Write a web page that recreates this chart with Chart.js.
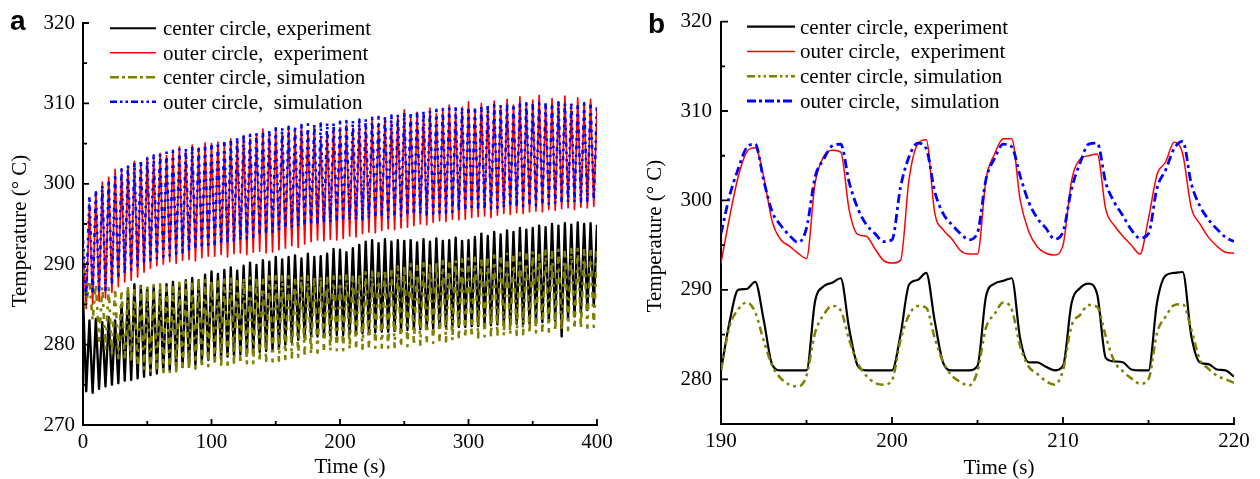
<!DOCTYPE html>
<html>
<head>
<meta charset="utf-8">
<script src="https://cdn.jsdelivr.net/npm/chart.js@4.4.1/dist/chart.umd.min.js"></script>
<style>
  html, body { margin: 0; padding: 0; background: #fff; }
  #wrap { position: relative; width: 1260px; height: 479px; }
  canvas { position: absolute; top: 0; }
  #chartA { left: 0; }
  #chartB { left: 630px; }
</style>
</head>
<body>
<div id="wrap">
  <canvas id="chartA" width="630" height="479"></canvas>
  <canvas id="chartB" width="630" height="479"></canvas>
</div>
<script>
// --- 圖例文字 (兩個面板共用) ---
const seriesLabels = ['center circle, experiment', 'outer circle,  experiment',
                      'center circle, simulation', 'outer circle,  simulation'];

// --- 面板 a：0–400 s，每個週期 5 s，讀取每個週期的谷值/峰值 ---
const aXTicks = [0, 100, 200, 300, 400];
const aXMinor = [50, 150, 250, 350];
const aYTicks = [270, 280, 290, 300, 310, 320];
const aYMinor = [275, 285, 295, 305, 315];
const aStep = 2.5;                     // 谷值 -> 峰值 的間隔 (s)
const aStart = [286, 292, 292, 293];   // t = 0 的值

const aCenterExpLow = [
  274.2, 274.0, 274.5, 274.8, 275.0, 275.2, 275.5, 275.6, 275.8, 276.0,
  276.2, 276.4, 276.6, 276.8, 277.0, 277.2, 277.3, 277.5, 277.8, 278.1,
  278.2, 278.3, 278.5, 278.6, 278.8, 278.9, 279.0, 279.1, 279.2, 279.3,
  279.6, 280.0, 280.3, 280.6, 280.8, 281.0, 281.0, 281.0, 281.1, 281.2,
  281.2, 281.3, 281.3, 281.4, 281.5, 281.5, 281.6, 281.6, 281.7, 281.8,
  281.8, 281.9, 281.9, 282.0, 282.0, 282.1, 282.1, 282.2, 282.2, 282.2,
  282.3, 282.3, 282.4, 282.4, 282.5, 282.5, 282.4, 282.6, 282.5, 282.6,
  282.7, 282.8, 282.9, 283.0, 281.0, 283.2, 283.5, 283.9, 284.3, 284.8];
const aCenterExpHigh = [
  283.0, 283.2, 282.8, 283.4, 283.0, 285.0, 286.8, 287.5, 287.3, 287.0,
  287.2, 286.9, 287.5, 287.8, 287.4, 288.0, 288.3, 288.0, 288.7, 289.1,
  288.8, 289.3, 289.6, 289.2, 289.8, 290.2, 289.9, 290.5, 290.3, 290.9,
  290.6, 290.9, 291.1, 290.7, 291.3, 290.9, 291.0, 291.3, 291.9, 291.8,
  291.5, 292.0, 292.4, 292.8, 293.0, 292.6, 293.1, 292.8, 293.0, 292.9,
  293.0, 292.7, 293.1, 292.8, 293.2, 292.9, 293.0, 293.3, 292.9, 293.0,
  293.4, 293.8, 293.5, 294.0, 293.7, 294.2, 294.0, 294.5, 294.3, 294.5,
  294.8, 294.6, 295.0, 294.8, 295.1, 294.9, 295.2, 295.0, 295.1, 294.9];
const aOuterExpLow = [
  284.5, 285.0, 285.4, 285.8, 286.5, 287.2, 287.8, 288.0, 288.4, 289.0,
  289.5, 289.8, 290.0, 290.3, 290.1, 290.5, 290.6, 290.4, 290.8, 291.0,
  291.0, 291.2, 290.9, 291.3, 291.4, 291.2, 291.5, 291.6, 291.4, 291.5,
  291.8, 292.0, 292.3, 292.1, 292.5, 292.8, 293.0, 292.9, 293.1, 293.0,
  293.2, 293.5, 293.4, 293.8, 294.0, 293.9, 294.2, 294.4, 294.3, 294.5,
  294.6, 294.8, 295.0, 294.9, 295.2, 295.4, 295.3, 295.6, 295.5, 295.6,
  295.8, 295.9, 296.0, 295.8, 296.1, 296.3, 296.2, 296.4, 296.3, 296.5,
  296.6, 296.5, 296.8, 296.7, 296.9, 297.0, 296.8, 297.1, 297.0, 297.2];
const aOuterExpHigh = [
  297.5, 299.0, 300.2, 300.8, 301.8, 301.5, 302.2, 302.8, 302.4, 303.3,
  303.0, 303.8, 303.5, 304.1, 304.6, 304.0, 304.8, 304.4, 305.1, 305.0,
  305.2, 304.8, 305.6, 305.3, 306.0, 305.6, 306.2, 306.8, 306.1, 306.7,
  306.4, 306.9, 306.5, 307.0, 306.6, 307.2, 305.9, 306.3, 307.0, 307.0,
  307.3, 306.9, 307.6, 307.2, 307.9, 307.5, 308.2, 307.8, 308.4, 309.2,
  308.2, 308.9, 308.5, 309.4, 308.7, 309.1, 309.8, 308.9, 309.5, 310.2,
  309.3, 310.0, 309.5, 310.3, 309.7, 310.5, 309.8, 310.8, 309.9, 310.4,
  311.0, 309.8, 310.6, 310.2, 310.9, 309.6, 310.7, 310.1, 310.5, 309.3];
const aCenterSimLow = [
  285.0, 283.0, 280.5, 279.5, 278.8, 278.3, 278.0, 277.8, 277.5, 277.0,
  276.7, 276.6, 276.6, 276.6, 276.7, 276.8, 276.9, 277.0, 277.1, 277.3,
  277.4, 277.5, 277.5, 277.6, 277.6, 277.7, 277.7, 277.8, 277.8, 277.9,
  278.0, 278.2, 278.4, 278.5, 278.7, 278.8, 279.0, 279.1, 279.2, 279.3,
  279.3, 279.4, 279.4, 279.5, 279.5, 279.6, 279.6, 279.6, 279.7, 279.7,
  279.8, 279.9, 280.0, 280.1, 280.2, 280.3, 280.4, 280.5, 280.7, 280.8,
  280.9, 280.9, 281.0, 281.0, 281.1, 281.1, 281.2, 281.2, 281.3, 281.4,
  281.5, 281.5, 281.6, 281.7, 281.8, 281.8, 281.9, 282.0, 282.1, 282.2];
const aCenterSimHigh = [
  288.0, 287.5, 287.2, 287.0, 287.0, 286.8, 287.0, 287.0, 287.2, 287.3,
  287.4, 287.5, 287.6, 287.6, 287.7, 287.8, 287.8, 287.9, 288.0, 288.0,
  288.1, 288.1, 288.2, 288.2, 288.3, 288.3, 288.4, 288.4, 288.5, 288.5,
  288.5, 288.5, 288.5, 288.5, 288.5, 288.5, 288.5, 288.5, 288.5, 288.5,
  288.6, 288.7, 288.8, 289.0, 289.1, 289.3, 289.4, 289.6, 289.7, 289.9,
  290.0, 290.1, 290.1, 290.2, 290.3, 290.4, 290.5, 290.5, 290.6, 290.7,
  290.8, 290.9, 291.0, 291.1, 291.2, 291.3, 291.3, 291.4, 291.5, 291.6,
  291.6, 291.7, 291.7, 291.8, 291.8, 291.9, 291.9, 292.0, 292.0, 292.0];
const aOuterSimLow = [
  286.0, 286.3, 286.5, 286.8, 287.5, 288.2, 288.8, 289.3, 289.8, 290.3,
  290.5, 290.7, 290.9, 291.1, 291.3, 291.5, 291.6, 291.8, 291.9, 292.0,
  292.2, 292.4, 292.6, 292.8, 293.0, 293.2, 293.4, 293.6, 293.8, 294.0,
  294.2, 294.4, 294.5, 294.7, 294.8, 294.9, 295.0, 295.1, 295.2, 295.3,
  295.4, 295.5, 295.5, 295.6, 295.7, 295.7, 295.8, 295.8, 295.9, 296.0,
  296.0, 296.1, 296.2, 296.2, 296.3, 296.4, 296.4, 296.5, 296.6, 296.7,
  296.7, 296.8, 296.8, 296.9, 297.0, 297.0, 297.1, 297.1, 297.2, 297.3,
  297.3, 297.4, 297.5, 297.5, 297.6, 297.7, 297.7, 297.8, 297.9, 298.0];
const aOuterSimHigh = [
  298.5, 299.2, 299.8, 300.5, 301.2, 301.8, 302.3, 302.6, 303.0, 303.3,
  303.5, 303.7, 303.9, 304.1, 304.3, 304.4, 304.6, 304.7, 304.9, 305.0,
  305.2, 305.4, 305.6, 305.8, 306.0, 306.1, 306.3, 306.5, 306.7, 306.9,
  307.0, 307.1, 307.2, 307.3, 307.4, 307.4, 307.5, 307.6, 307.6, 307.7,
  307.8, 307.9, 308.0, 308.1, 308.2, 308.3, 308.4, 308.5, 308.6, 308.8,
  308.9, 309.0, 309.1, 309.1, 309.2, 309.3, 309.4, 309.4, 309.5, 309.6,
  309.6, 309.7, 309.7, 309.8, 309.8, 309.9, 309.9, 309.9, 310.0, 310.0,
  310.0, 310.1, 310.0, 310.1, 310.0, 310.1, 310.0, 310.0, 310.1, 310.0];

// --- 面板 b：190–220 s，每 0.5 s 讀一個值 ---
const bXTicks = [190, 200, 210, 220];
const bXMinor = [195, 205, 215];
const bYTicks = [280, 290, 300, 310, 320];
const bYMinor = [275, 285, 295, 305, 315];
const bStart = 190;
const bStep = 0.5;

const bCenterExp = [
  281.0, 286.4, 290.0, 290.1, 290.9, 286.6, 281.6, 281.0, 281.0, 281.0, 281.0,
  288.7, 290.4, 290.8, 291.3, 285.6, 281.5, 281.0, 281.0, 281.0, 281.0,
  285.0, 290.6, 291.1, 291.9, 286.5, 281.8, 281.0, 281.0, 281.0, 281.5,
  289.3, 290.7, 291.0, 291.3, 284.5, 281.9, 281.9, 281.4, 281.0, 281.5,
  288.5, 290.2, 290.7, 289.5, 282.4, 282.0, 281.9, 281.1, 281.0, 281.0,
  288.6, 291.6, 291.9, 292.0, 284.9, 281.9, 281.7, 281.1, 281.0, 280.3];
const bOuterExp = [
  293.0, 298.1, 302.6, 305.4, 305.9, 302.6, 297.6, 295.6, 294.9, 294.1, 293.5,
  301.9, 304.9, 305.6, 305.4, 298.9, 296.2, 296.0, 294.6, 293.3, 293.0,
  293.3, 302.4, 306.3, 306.8, 298.6, 296.7, 295.7, 294.4, 294.0, 294.0,
  302.4, 305.2, 306.9, 306.9, 300.0, 296.5, 294.8, 294.1, 293.9, 295.0,
  302.2, 304.6, 305.0, 305.2, 299.0, 297.2, 296.0, 295.0, 294.0, 298.0,
  302.9, 304.3, 306.5, 305.2, 299.2, 297.4, 295.9, 294.9, 294.2, 294.1];
const bCenterSim = [
  281.0, 285.9, 287.8, 288.6, 287.5, 284.3, 281.5, 280.1, 279.4, 279.2, 280.4,
  285.2, 287.2, 288.2, 287.7, 284.4, 281.8, 280.4, 279.6, 279.4, 279.9,
  284.4, 287.2, 288.2, 288.0, 284.6, 281.9, 280.4, 279.7, 279.3, 280.9,
  285.8, 287.3, 288.6, 287.8, 283.7, 281.4, 280.6, 279.8, 279.4, 281.0,
  286.0, 287.2, 288.3, 288.1, 284.8, 282.0, 280.9, 280.1, 279.5, 280.0,
  285.2, 287.0, 288.3, 288.4, 285.6, 282.2, 281.2, 280.4, 280.0, 279.6];
const bOuterSim = [
  296.3, 300.5, 303.5, 305.9, 306.3, 302.2, 298.7, 297.2, 296.1, 295.3, 296.9,
  302.6, 304.6, 306.1, 306.3, 302.0, 299.1, 297.3, 296.3, 295.4, 295.6,
  301.5, 304.9, 306.4, 305.8, 301.0, 298.5, 297.3, 296.3, 295.6, 296.4,
  302.4, 304.7, 306.3, 306.0, 302.7, 299.8, 298.0, 296.9, 295.7, 296.5,
  301.3, 304.2, 306.3, 306.4, 302.0, 299.8, 298.3, 296.7, 295.8, 296.3,
  301.4, 303.4, 305.8, 306.6, 301.9, 299.4, 297.9, 296.8, 295.9, 295.4];

// 面板 a：起始值 + (谷, 峰) 交替
function cyclePoints(start, lows, highs) {
  const pts = [{ x: 0, y: start }];
  lows.forEach((lo, k) => {
    pts.push({ x: (2 * k + 1) * aStep, y: lo });
    pts.push({ x: (2 * k + 2) * aStep, y: highs[k] });
  });
  return pts;
}
const bPoints = vals => vals.map((v, i) => ({ x: bStart + i * bStep, y: v }));

const SERIF = '"Liberation Serif", "Times New Roman", serif';

// 內向刻度、圖例、軸標題、面板字母
const decorPlugin = {
  id: 'decor',
  afterDraw(chart, args, o) {
    const { ctx, chartArea: ca, scales: { x, y } } = chart;
    ctx.save();
    ctx.strokeStyle = '#000';
    ctx.lineWidth = 1.8;
    ctx.beginPath();
    const tick = (vals, len, isX) => vals.forEach(v => {
      if (isX) {
        const px = x.getPixelForValue(v);
        ctx.moveTo(px, ca.bottom); ctx.lineTo(px, ca.bottom - len);
      } else {
        const py = y.getPixelForValue(v);
        ctx.moveTo(ca.left, py); ctx.lineTo(ca.left + len, py);
      }
    });
    tick(o.xMajor, o.major, true);
    tick(o.xMinor, o.minor, true);
    tick(o.yMajor, o.major, false);
    tick(o.yMinor, o.minor, false);
    ctx.stroke();

    // 圖例
    ctx.font = '21px ' + SERIF;
    ctx.textAlign = 'left';
    ctx.textBaseline = 'alphabetic';
    chart.data.datasets.forEach((ds, i) => {
      const ly = ca.top + o.legTop + i * o.legGap;
      ctx.strokeStyle = ds.borderColor;
      ctx.lineWidth = o.legWidth[i];
      ctx.setLineDash(o.legDash[i]);
      ctx.beginPath();
      ctx.moveTo(o.legX1, ly); ctx.lineTo(o.legX2, ly);
      ctx.stroke();
      ctx.setLineDash([]);
      ctx.fillStyle = '#000';
      ctx.fillText(ds.label, o.legText, ly + o.legDrop);
    });

    // 軸標題
    ctx.textAlign = 'center';
    ctx.fillText('Time (s)', o.xTitleX, o.xTitleY);
    ctx.save();
    ctx.translate(o.yTitleX, o.yTitleY);
    ctx.rotate(-Math.PI / 2);
    ctx.fillText('Temperature (\u00B0 C)', 0, 0);
    ctx.restore();

    // 面板字母
    ctx.textAlign = 'left';
    ctx.font = 'bold 28px "Liberation Sans", Arial, sans-serif';
    ctx.fillText(o.letter, o.letterX, o.letterY);
    ctx.restore();
  }
};

function axis(min, max, ticksArr, pad, fitSize, isX) {
  return {
    type: 'linear', min, max,
    grid: { display: false, drawTicks: false },
    border: { display: true, color: '#000', width: 2 },
    ticks: { color: '#000', font: { family: SERIF, size: 21 }, padding: pad, autoSkip: false, maxRotation: 0 },
    afterBuildTicks: s => { s.ticks = ticksArr.map(v => ({ value: v })); },
    afterFit: s => { if (isX) s.height = fitSize; else s.width = fitSize; }
  };
}

function makeChart(id, datasets, scales, padding, decor) {
  return new Chart(document.getElementById(id), {
    type: 'line',
    data: { datasets },
    options: {
      responsive: false, animation: false, devicePixelRatio: 1, events: [],
      layout: { padding },
      elements: { point: { radius: 0 } },
      scales,
      plugins: { legend: { display: false }, tooltip: { enabled: false }, decor }
    },
    plugins: [decorPlugin]
  });
}

// --- 面板 a ---  (order 小的畫在上層：模擬的虛線蓋在實驗曲線上)
const aLines = { fill: false, tension: 0, borderJoinStyle: 'round', borderCapStyle: 'butt' };
makeChart('chartA', [
  { ...aLines, label: seriesLabels[0], data: cyclePoints(aStart[0], aCenterExpLow, aCenterExpHigh),
    borderColor: '#000000', borderWidth: 2.4, order: 4 },
  { ...aLines, label: seriesLabels[1], data: cyclePoints(aStart[1], aOuterExpLow, aOuterExpHigh),
    borderColor: '#ff0000', borderWidth: 1.7, order: 3 },
  { ...aLines, label: seriesLabels[2], data: cyclePoints(aStart[2], aCenterSimLow, aCenterSimHigh),
    borderColor: '#808000', borderWidth: 2.6, borderDash: [6, 6, 3, 6], order: 2 },
  { ...aLines, label: seriesLabels[3], data: cyclePoints(aStart[3], aOuterSimLow, aOuterSimHigh),
    borderColor: '#0000ff', borderWidth: 2.6, borderDash: [4, 5, 2.5, 5, 2.5, 5], order: 1 }
], {
  x: axis(0, 400, aXTicks, 5, 54, true),
  y: axis(270, 320, aYTicks, 8, 83, false)
}, { left: 0, right: 33, top: 23, bottom: 0 }, {
  xMajor: aXTicks, xMinor: aXMinor, yMajor: aYTicks, yMinor: aYMinor, major: 6, minor: 4,
  legTop: 5.3, legGap: 24.5, legX1: 110, legX2: 156, legText: 163, legDrop: 6.7,
  legWidth: [2, 1.5, 2.5, 2.5],
  legDash: [[], [], [9, 3, 3, 3], [7, 3, 2.5, 3, 2.5, 3]],
  xTitleX: 350, xTitleY: 473, yTitleX: 25.5, yTitleY: 231,
  letter: 'a', letterX: 10, letterY: 30
});

// --- 面板 b ---
const bLines = { fill: false, cubicInterpolationMode: 'monotone', borderCapStyle: 'butt', borderJoinStyle: 'round' };
makeChart('chartB', [
  { ...bLines, label: seriesLabels[0], data: bPoints(bCenterExp), borderColor: '#000000', borderWidth: 2.2, order: 4 },
  { ...bLines, label: seriesLabels[1], data: bPoints(bOuterExp), borderColor: '#ff0000', borderWidth: 1.5, order: 3 },
  { ...bLines, label: seriesLabels[2], data: bPoints(bCenterSim), borderColor: '#808000', borderWidth: 2.5,
    borderDash: [8, 4, 3, 4, 3, 4], order: 2 },
  { ...bLines, label: seriesLabels[3], data: bPoints(bOuterSim), borderColor: '#0000ff', borderWidth: 2.8,
    borderDash: [9, 4, 3, 4], order: 1 }
], {
  x: axis(190, 220, bXTicks, 5, 55, true),
  y: axis(275, 320, bYTicks, 9, 91, false)
}, { left: 0, right: 26, top: 20, bottom: 0 }, {
  xMajor: bXTicks, xMinor: bXMinor, yMajor: bYTicks, yMinor: bYMinor, major: 7, minor: 4,
  legTop: 5, legGap: 24.8, legX1: 117, legX2: 165, legText: 170, legDrop: 7,
  legWidth: [2.2, 1.5, 2.5, 2.8],
  legDash: [[], [], [8, 3, 2.5, 3, 2.5, 3], [9, 3, 3, 3]],
  xTitleX: 369, xTitleY: 474, yTitleX: 31, yTitleY: 236,
  letter: 'b', letterX: 18, letterY: 33
});
</script>
</body>
</html>
